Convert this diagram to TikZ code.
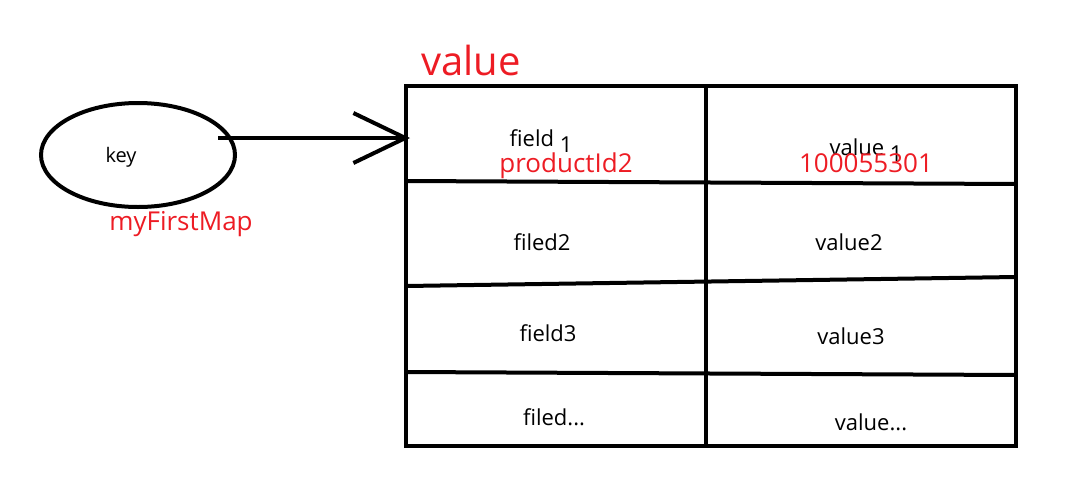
\documentclass[tikz,border=0pt]{standalone}
\usepackage{fontspec}
\setmainfont{Open Sans}
\usepackage{xcolor}
\usetikzlibrary{arrows.meta,shapes.geometric}
\definecolor{paintred}{RGB}{237,28,36}
\def\fs#1{\fontsize{#1}{#1}\selectfont}
\def\sub#1{\ \raisebox{-6pt}{#1}}

\begin{document}
\begin{tikzpicture}[x=1pt,y=-1pt,line width=4pt,
    txt/.style={anchor=base,inner sep=0pt},
    cell/.style={txt,font=\fs{22}},
    redlab/.style={txt,text=paintred,font=\fs{26}}]
  \useasboundingbox (0,0) rectangle (1073,482);
  \node[draw,ellipse,inner sep=0pt,minimum width=194pt,minimum height=104pt] (keyshape) at (138,155) {};
  \node[txt,font=\fs{20}] (key) at (121,162) {key};
  \node[redlab] (mapname) at (181,230) {myFirstMap};
  \node[txt,text=paintred,font=\fs{40}] (title) at (471,75) {value};
  \coordinate (tail) at (218,138);
  \coordinate (tip) at (410,138);
  \draw[-{Straight Barb[length=52pt,width=50pt]}] (tail) -- (tip);
  \draw (406,86) rectangle (1016,446);
  \draw (706,86) -- (706,446);
  \draw (406,181) -- (1016,184);
  \draw (406,286) -- (1016,277);
  \draw (406,372) -- (1016,375);
  \node[cell] (f1) at (541,146) {field\sub{1}};
  \node[cell] (v1) at (866,155) {value\sub{1}};
  \node[redlab] (pid) at (566,172) {productId2};
  \node[redlab] (pval) at (866,172) {100055301};
  \node[cell] (f2) at (542,250) {filed2};
  \node[cell] (v2) at (849,250) {value2};
  \node[cell] (f3) at (548,341) {field3};
  \node[cell] (v3) at (851,344) {value3};
  \node[cell] (f4) at (554,425) {filed...};
  \node[cell] (v4) at (871,430) {value...};
\end{tikzpicture}
\end{document}
